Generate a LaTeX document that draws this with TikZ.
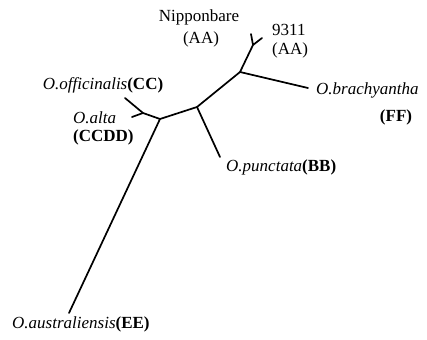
\documentclass[tikz,border=0pt]{standalone}
\usepackage{fontspec}
\setmainfont{Liberation Serif}
\begin{document}
\begin{tikzpicture}[x=1pt,y=-1pt,
  branch/.style={line width=1.7pt, line cap=round, line join=round},
  lab/.style={inner sep=0pt, font=\fontsize{17}{20}\selectfont},
  code/.style={inner sep=0pt, font=\fontsize{17}{20}\selectfont\bfseries}]
\useasboundingbox (0,0) rectangle (427,339);
% internal nodes and tips
\coordinate (ya) at (251,34);
\coordinate (yb) at (262,38);
\coordinate (yj) at (253,45);
\coordinate (A) at (240,72);
\coordinate (Ftip) at (308,88);
\coordinate (B) at (197,107);
\coordinate (Ptip) at (220,157);
\coordinate (C) at (160,119);
\coordinate (D) at (143,113);
\coordinate (Otip) at (125,98);
\coordinate (Atip) at (132,117);
\coordinate (Etip) at (69,313);
% branches
\draw[branch] (ya) -- (yj) -- (yb);
\draw[branch] (yj) -- (A) -- (Ftip);
\draw[branch] (A) -- (B) -- (Ptip);
\draw[branch] (B) -- (C) -- (Etip);
\draw[branch] (C) -- (D) -- (Otip);
\draw[branch] (D) -- (Atip);
% labels
\node[lab] (nip) at (199,17) {Nipponbare};
\node[lab] (nipaa) at (201,39) {(AA)};
\node[lab, anchor=west] (n9311) at (272,30) {9311};
\node[lab, anchor=west] (n9311aa) at (272,50) {(AA)};
\node[lab, anchor=west] (bra) at (316,90) {\textit{O.brachyantha}};
\node[code] (braff) at (396,117) {(FF)};
\node[lab] (off) at (103,85) {\textit{O.officinalis}\textbf{(CC)}};
\node[lab, anchor=west] (alta) at (73,118) {\textit{O.alta}};
\node[code, anchor=west] (altacc) at (73,137) {(CCDD)};
\node[lab, anchor=west] (pun) at (226,167) {\textit{O.punctata}\textbf{(BB)}};
\node[lab, anchor=west] (aus) at (12,324) {\textit{O.australiensis}\textbf{(EE)}};
\end{tikzpicture}
\end{document}
